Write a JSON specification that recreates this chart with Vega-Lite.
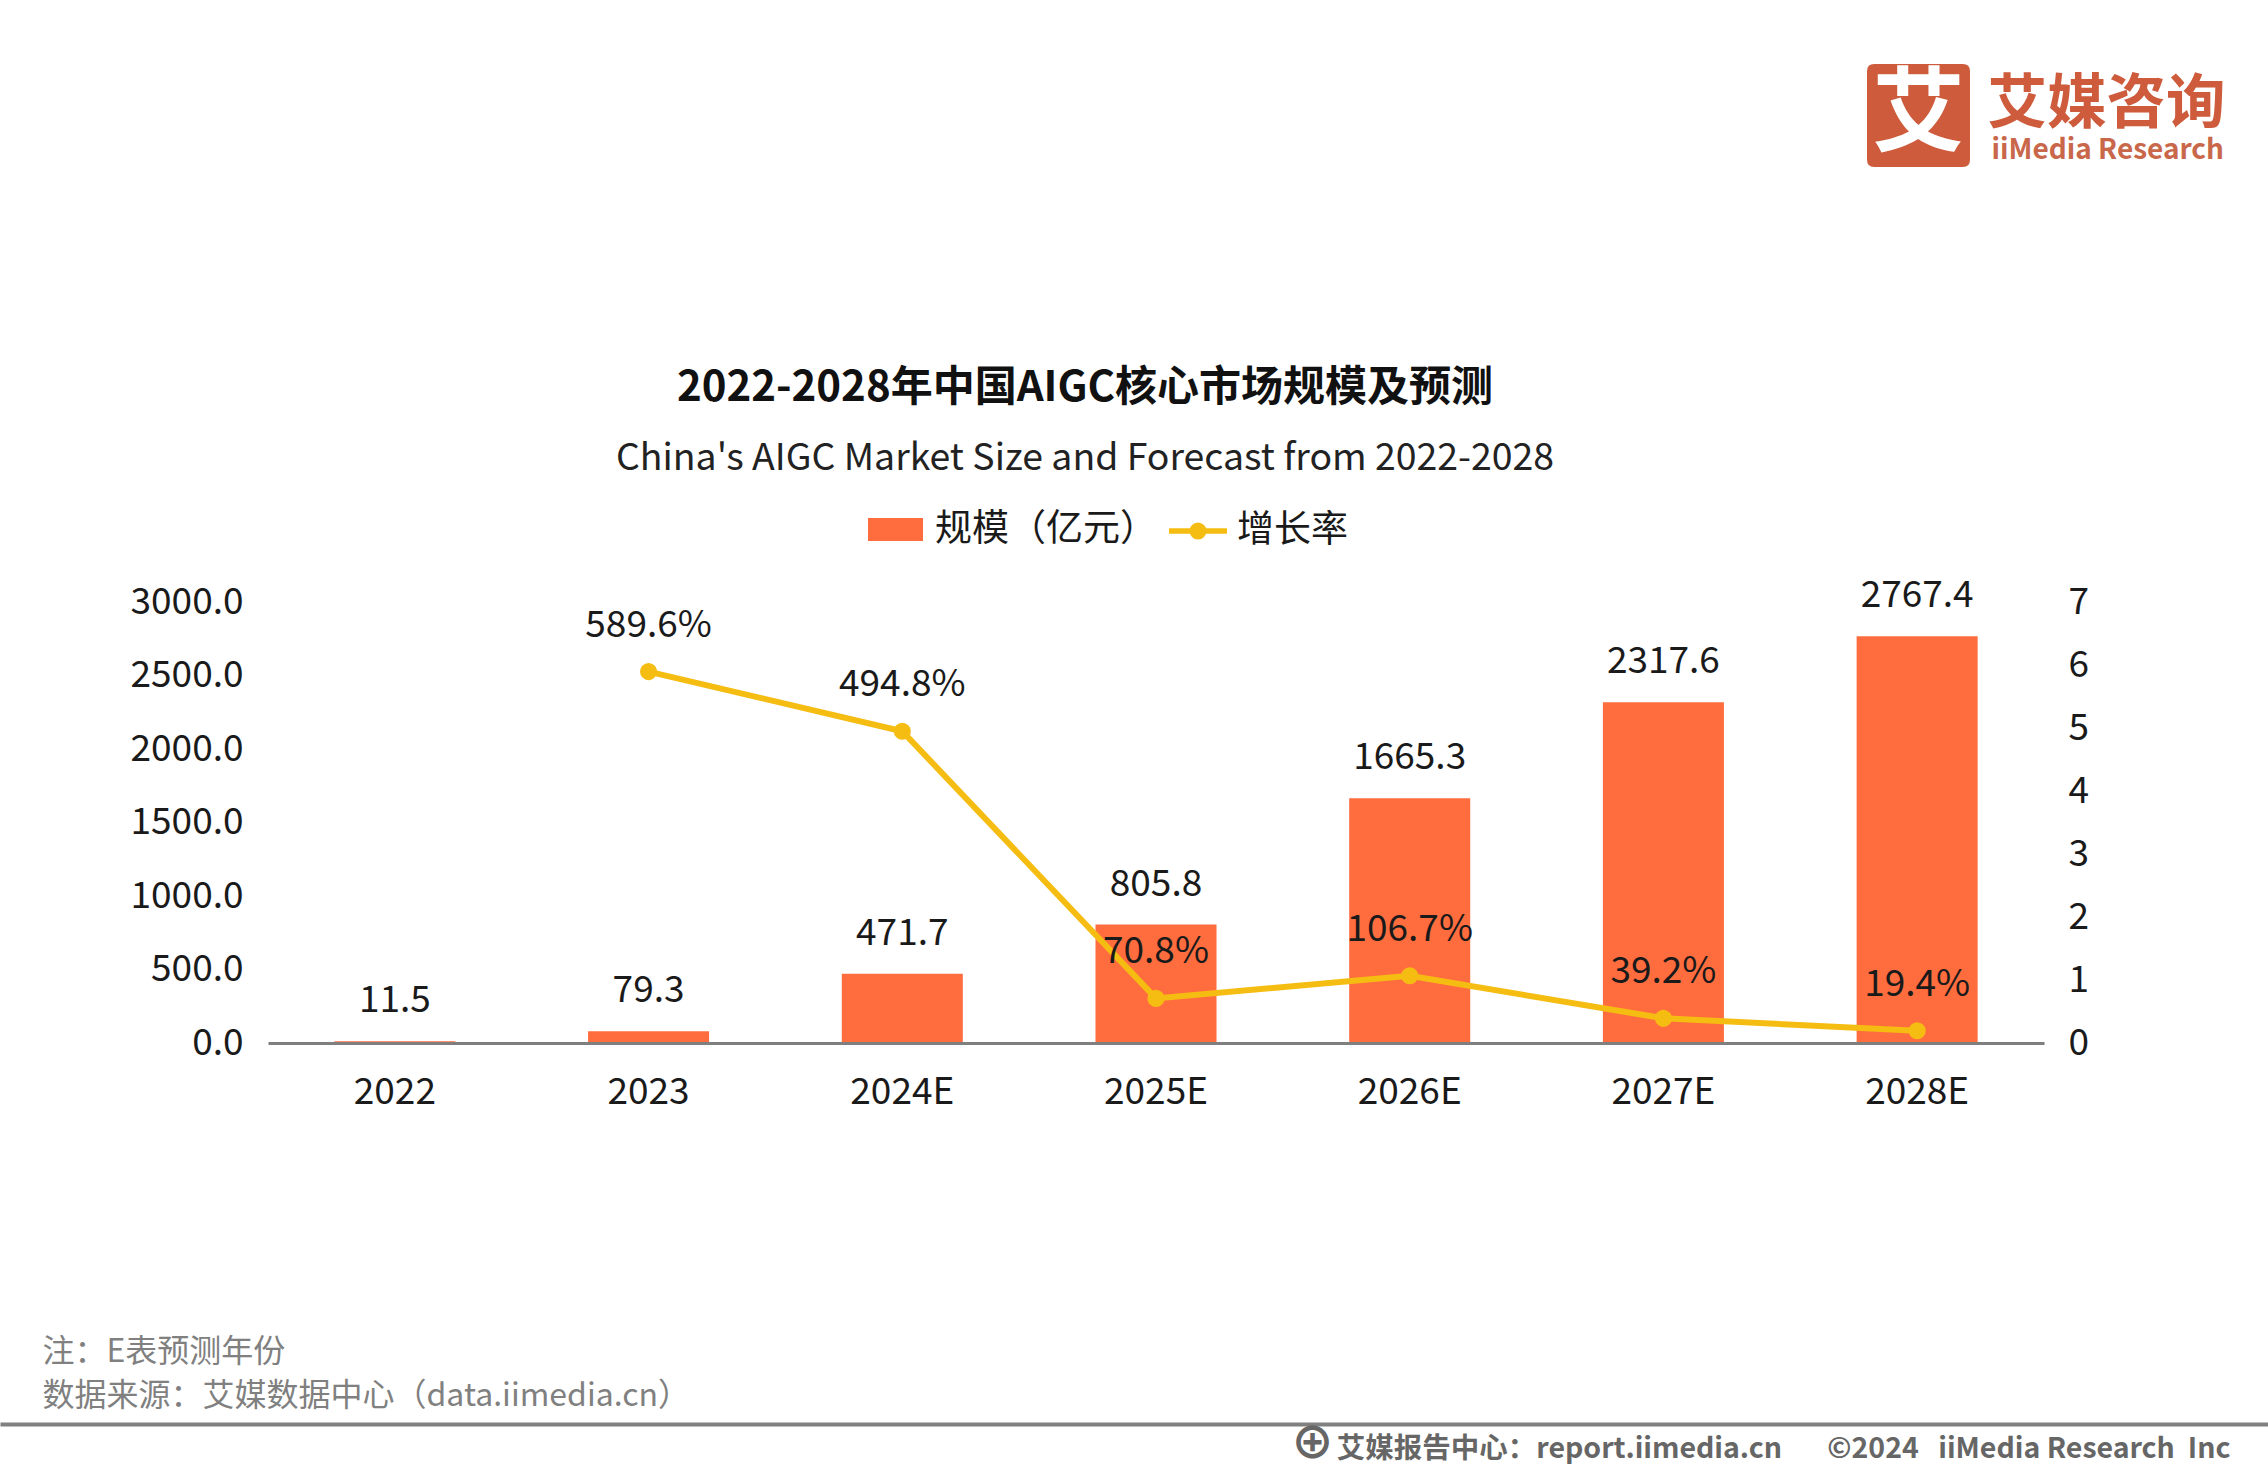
{
"$schema":"https://vega.github.io/schema/vega-lite/v6.json",
"autosize":"none",
"padding":{"left":268,"top":602,"right":224,"bottom":431},
"width":1776,"height":441,
"background":"white",
"config":{"font":"Noto Sans CJK SC","view":{"stroke":null}},
"title":{"text":"2022-2028年中国AIGC核心市场规模及预测","subtitle":"China's AIGC Market Size and Forecast from 2022-2028","anchor":"middle","frame":"group","dx":-71,"offset":-414,"fontSize":42,"fontWeight":"bold","color":"#111111","subtitleFontSize":37.4,"subtitleColor":"#222222","subtitlePadding":30,"font":"Noto Sans CJK SC","subtitleFont":"Noto Sans CJK SC"},
"datasets":{"market":[
{"year":"2022","size":11.5,"growth":null},
{"year":"2023","size":79.3,"growth":5.896},
{"year":"2024E","size":471.7,"growth":4.948},
{"year":"2025E","size":805.8,"growth":0.708},
{"year":"2026E","size":1665.3,"growth":1.067},
{"year":"2027E","size":2317.6,"growth":0.392},
{"year":"2028E","size":2767.4,"growth":0.194}
],"brand":[{"name":"艾媒咨询"}]},
"resolve":{"scale":{"x":"independent","y":"independent"},"axis":{"x":"independent","y":"independent"}},
"layer":[
{"data":{"name":"market"},"mark":{"type":"bar"},
 "encoding":{
  "x":{"field":"year","type":"nominal","sort":null,"scale":{"type":"band","paddingInner":0.523,"paddingOuter":0.2615},
   "axis":{"orient":"bottom","zindex":1,"labelAngle":0,"labelFontSize":37,"labelColor":"#1a1a1a","labelPadding":31,"ticks":false,"domainColor":"#7f7f7f","domainWidth":3,"grid":false,
    "title":["注：E表预测年份","数据来源：艾媒数据中心（data.iimedia.cn）"],"titleFontSize":32,"titleFontWeight":"normal","titleColor":"#808080","titleAngle":0,"titleAlign":"left","titleBaseline":"alphabetic","titleX":-226,"titleY":318,"titleLineHeight":44}},
  "y":{"field":"size","type":"quantitative","scale":{"domain":[0,3000]},
   "axis":{"orient":"left","values":[0,500,1000,1500,2000,2500,3000],"format":".1f","labelFontSize":37,"labelColor":"#1a1a1a","labelPadding":25,"ticks":false,"domain":false,"grid":false,"title":null}},
  "fill":{"datum":"规模（亿元）","scale":{"range":["#FF6D3F"]},
   "legend":{"title":null,"orient":"none","legendX":600,"legendY":-100,"symbolType":"M-1,-0.42H1V0.42H-1Z","symbolSize":3025,"symbolStrokeWidth":0,"labelFontSize":37,"labelColor":"#1a1a1a","labelOffset":12,"labelLimit":400}}
 }},
{"data":{"name":"market"},"mark":{"type":"text","dy":-40,"fontSize":37,"color":"#1a1a1a"},
 "encoding":{
  "x":{"field":"year","type":"nominal","sort":null,"scale":{"type":"band","paddingInner":0.523,"paddingOuter":0.2615},"axis":null},
  "y":{"field":"size","type":"quantitative","scale":{"domain":[0,3000]},"axis":null},
  "text":{"field":"size","type":"quantitative","format":".1f"}
 }},
{"data":{"name":"market"},"transform":[{"filter":"datum.growth != null"}],"mark":{"type":"line","strokeWidth":6,"point":{"filled":true,"size":230,"color":"#F5BD12"}},
 "encoding":{
  "x":{"field":"year","type":"nominal","sort":null,"scale":{"type":"band","domain":["2022","2023","2024E","2025E","2026E","2027E","2028E"],"paddingInner":0.523,"paddingOuter":0.2615},"axis":null},
  "y":{"field":"growth","type":"quantitative","scale":{"domain":[0,7]},
   "axis":{"orient":"right","values":[0,1,2,3,4,5,6,7],"format":"d","labelFontSize":37,"labelColor":"#1a1a1a","labelPadding":24,"ticks":false,"domain":false,"grid":false,
    "title":"iiMedia Research","titleFontSize":28,"titleFontWeight":"bold","titleColor":"#C9674B","titleAngle":0,"titleAlign":"left","titleBaseline":"middle","titleX":-53,"titleY":-452}},
  "stroke":{"datum":"增长率","scale":{"range":["#F5BD12"]},
   "legend":{"title":null,"orient":"none","legendX":898,"legendY":-103,"symbolType":"M-1,0H1M-0.2,0a0.2,0.2 0 1,0 0.4,0a0.2,0.2 0 1,0 -0.4,0","symbolSize":3364,"symbolStrokeWidth":5.5,"symbolFillColor":"#F5BD12","labelFontSize":37,"labelColor":"#1a1a1a","labelOffset":7}}
 }},
{"data":{"name":"market"},"transform":[{"filter":"datum.growth != null"}],"mark":{"type":"text","dy":-46,"fontSize":37,"color":"#1a1a1a"},
 "encoding":{
  "x":{"field":"year","type":"nominal","sort":null,"scale":{"type":"band","domain":["2022","2023","2024E","2025E","2026E","2027E","2028E"],"paddingInner":0.523,"paddingOuter":0.2615},"axis":null},
  "y":{"field":"growth","type":"quantitative","scale":{"domain":[0,7]},"axis":null},
  "text":{"field":"growth","type":"quantitative","format":".1%"}
 }},
{"data":{"name":"brand"},"mark":{"type":"point","opacity":0},
 "encoding":{
  "x":{"datum":0,"type":"quantitative","scale":{"domain":[0,1],"range":[-268,2000]},
   "axis":{"orient":"bottom","offset":381,"labels":false,"ticks":false,"grid":false,"domainColor":"#808080","domainWidth":4,
    "title":"艾媒报告中心：report.iimedia.cn\u00a0\u00a0\u00a0\u00a0\u00a0\u00a0\u00a0©2024\u00a0\u00a0\u00a0iiMedia Research\u00a0\u00a0Inc","titleFontSize":28.5,"titleFontWeight":"bold","titleColor":"#666666","titleAngle":0,"titleAlign":"right","titleBaseline":"alphabetic","titleX":1962,"titleY":33}},
  "y":{"datum":0,"type":"quantitative","scale":{"domain":[0,1]},
   "axis":{"orient":"left","labels":false,"ticks":false,"domain":false,"grid":false,
    "title":"艾媒咨询","titleFontSize":59.5,"titleFontWeight":"bold","titleColor":"#CD5B3C","titleAngle":0,"titleAlign":"left","titleBaseline":"middle","titleX":1719,"titleY":-498}}
 }},
{"data":{"name":"brand"},"mark":{"type":"point","opacity":0,"filled":true,"color":"#CD5B3C"},
 "encoding":{
  "x":{"datum":0,"type":"quantitative","scale":{"domain":[0,1]},
   "axis":{"orient":"bottom","labels":false,"ticks":false,"domain":false,"grid":false,
    "title":"⊕","titleFontSize":44,"titleFontWeight":"bold","titleColor":"#666666","titleAngle":0,"titleAlign":"center","titleBaseline":"middle","titleX":1044,"titleY":402}},
  "y":{"datum":0,"type":"quantitative","scale":{"domain":[0,1]},
   "axis":{"orient":"right","labels":false,"ticks":false,"domain":false,"grid":false,"zindex":2,
    "title":"艾","titleFontSize":92,"titleFontWeight":"bold","titleColor":"#FFFFFF","titleAngle":0,"titleAlign":"center","titleBaseline":"middle","titleX":-126,"titleY":-487}},
  "shape":{"field":"name","type":"nominal","scale":{"range":["M-0.86,-1H0.86Q1,-1 1,-0.86V0.86Q1,1 0.86,1H-0.86Q-1,1 -1,0.86V-0.86Q-1,-1 -0.86,-1Z"]},
   "legend":{"title":null,"orient":"none","legendX":1599,"legendY":-538,"symbolSize":10609,"symbolOpacity":1,"symbolFillColor":"#CD5B3C","symbolStrokeWidth":0,"labelExpr":"''"}}
 }}
]
}
